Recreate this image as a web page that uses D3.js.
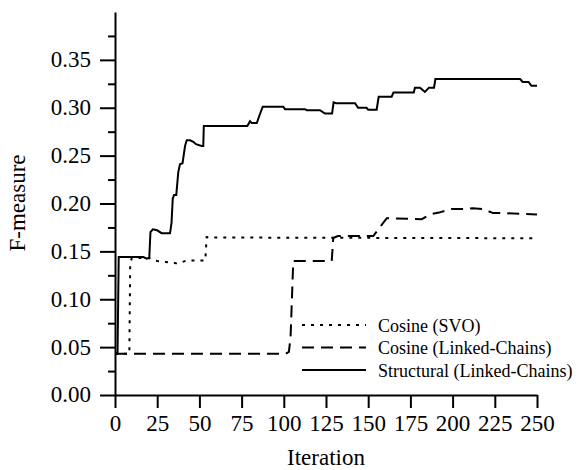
<!DOCTYPE html>
<html>
<head>
<meta charset="utf-8">
<script src="https://cdn.jsdelivr.net/npm/d3@7"></script>
<style>
  body { margin: 0; background: #fff; }
  svg text { font-family: "Liberation Serif", "Times New Roman", serif; fill: #000; }
</style>
</head>
<body>
<div id="chart"></div>
<script>
var w = 581,
    h = 470;

// iteration / F-measure pairs
var structIter = [0, 1.5, 2.2, 16.8, 18.8, 20.3, 21, 22.4, 25, 27.6, 32.6, 33.5, 34.2, 35, 36.3, 37.5, 38.5, 40, 41.5, 42.5, 44.5, 46.4, 48, 51.3, 52.3, 52.6, 78.4, 80, 81, 84, 86, 87.5, 99.7, 100.7, 112.6, 113.6, 121.4, 124.4, 128.6, 129.5, 131, 142.2, 144, 149, 150, 155, 156.2, 163.9, 165, 177, 177.7, 180.7, 183.6, 186, 189, 189.8, 240, 241.5, 245, 246.7, 250];
var structVal = [0.043, 0.043, 0.144, 0.144, 0.1423, 0.143, 0.170, 0.173, 0.172, 0.169, 0.169, 0.180, 0.205, 0.209, 0.209, 0.233, 0.241, 0.242, 0.260, 0.266, 0.266, 0.2645, 0.262, 0.260, 0.260, 0.281, 0.281, 0.286, 0.284, 0.284, 0.294, 0.301, 0.301, 0.2985, 0.2985, 0.2975, 0.2975, 0.294, 0.294, 0.3057, 0.3047, 0.3047, 0.300, 0.300, 0.298, 0.298, 0.3115, 0.3115, 0.316, 0.316, 0.321, 0.321, 0.3165, 0.321, 0.321, 0.330, 0.330, 0.327, 0.327, 0.323, 0.323];

var svoIter = [0, 8.5, 9, 10, 20, 25, 30, 36.5, 40, 42.5, 53.5, 54.3, 57, 250];
var svoVal = [0.043, 0.043, 0.138, 0.143, 0.143, 0.140, 0.139, 0.1375, 0.139, 0.1405, 0.1405, 0.165, 0.1645, 0.1637];

var chainIter = [0, 101, 103, 104, 105.6, 128.4, 129.3, 132, 153, 159, 161, 181.7, 185, 187.6, 192, 199.4, 206, 212, 218, 224, 230, 236, 250];
var chainVal = [0.043, 0.043, 0.045, 0.06, 0.14, 0.14, 0.164, 0.166, 0.166, 0.18, 0.1846, 0.1836, 0.187, 0.189, 0.1905, 0.1943, 0.1943, 0.195, 0.1943, 0.1900, 0.1900, 0.1895, 0.1885];

var xTicks = [0, 25, 50, 75, 100, 125, 150, 175, 200, 225, 250];
var yTicks = [0.00, 0.05, 0.10, 0.15, 0.20, 0.25, 0.30, 0.35];
var yMinor = [0.025, 0.075, 0.125, 0.175, 0.225, 0.275, 0.325, 0.375];

var seriesNames = ["Cosine (SVO)", "Cosine (Linked-Chains)", "Structural (Linked-Chains)"];
var dashes = ["3,6", "12,7", null];

var serif = '"Liberation Serif", "Times New Roman", serif';

var x = d3.scaleLinear().domain([0, 250]).range([115, 537]);
var y = d3.scaleLinear().domain([0, 0.40]).range([395, 12]);

var svg = d3.select("#chart").append("svg")
    .attr("width", w)
    .attr("height", h);

function zip(a, b) {
    return a.map(function(d, i) { return [d, b[i]]; });
}

var series = [zip(svoIter, svoVal), zip(chainIter, chainVal), zip(structIter, structVal)];

var line = d3.line()
    .x(function(d) { return x(d[0]); })
    .y(function(d) { return y(d[1]); });

svg.selectAll(".series")
    .data(series)
    .enter().append("path")
    .attr("class", "series")
    .attr("d", line)
    .attr("fill", "none")
    .attr("stroke", "#000")
    .attr("stroke-width", 2)
    .attr("stroke-dasharray", function(d, i) { return dashes[i]; });

// axes
var xAxis = svg.append("g")
    .attr("transform", "translate(0,395)")
    .call(d3.axisBottom(x).tickValues(xTicks).tickSize(13).tickSizeOuter(0).tickPadding(7)
        .tickFormat(d3.format("d")));

var yAxis = svg.append("g")
    .attr("transform", "translate(115,0)")
    .call(d3.axisLeft(y).tickValues(yTicks).tickSize(15).tickSizeOuter(0).tickPadding(9)
        .tickFormat(d3.format(".2f")));

svg.append("g")
    .attr("transform", "translate(115,0)")
    .call(d3.axisLeft(y).tickValues(yMinor).tickSize(7).tickFormat(""))
    .select(".domain").remove();

svg.selectAll(".domain, .tick line")
    .attr("stroke", "#000")
    .attr("stroke-width", 2);

svg.selectAll("g").attr("font-family", serif);

svg.selectAll(".tick text")
    .style("font-family", serif)
    .style("font-size", "23px");

yAxis.selectAll(".tick text").attr("dy", "0.3em");

// axis titles
svg.append("text")
    .attr("x", 326)
    .attr("y", 465)
    .attr("text-anchor", "middle")
    .style("font-family", serif)
    .style("font-size", "23px")
    .text("Iteration");

svg.append("text")
    .attr("transform", "translate(25,203) rotate(-90)")
    .attr("text-anchor", "middle")
    .style("font-family", serif)
    .style("font-size", "23px")
    .text("F-measure");

// legend
var legend = svg.selectAll(".legend")
    .data(seriesNames)
    .enter().append("g")
    .attr("class", "legend")
    .attr("transform", function(d, i) { return "translate(0," + (325 + i * 22.5) + ")"; });

legend.append("line")
    .attr("x1", 302)
    .attr("x2", 366)
    .attr("stroke", "#000")
    .attr("stroke-width", 2)
    .attr("stroke-dasharray", function(d, i) { return dashes[i]; });

legend.append("text")
    .attr("x", 378)
    .attr("y", 6.5)
    .style("font-family", serif)
    .style("font-size", "18px")
    .text(function(d) { return d; });
</script>
</body>
</html>
